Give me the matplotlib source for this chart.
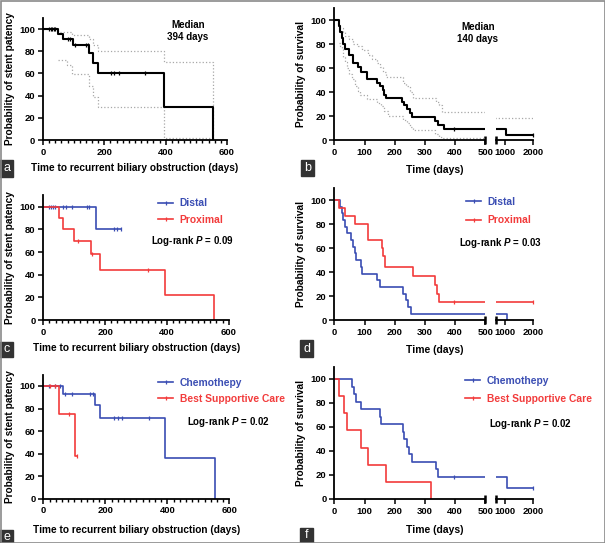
import numpy as np
import matplotlib.pyplot as plt
from matplotlib.lines import Line2D
from matplotlib.patches import Rectangle
from matplotlib.ticker import MultipleLocator

plt.rcParams['font.family'] = ['Liberation Sans', 'DejaVu Sans']
plt.rcParams['font.weight'] = 'bold'
plt.rcParams['mathtext.fontset'] = 'custom'
plt.rcParams['mathtext.it'] = 'Liberation Sans:italic:bold'
plt.rcParams['mathtext.rm'] = 'Liberation Sans:bold'

# ---- data ----
# a: stent patency, all patients
a_t = [0, 50, 64, 99, 151, 162, 180, 394, 553]
a_s = [100, 96, 91, 85.5, 78, 69, 60, 30, 0]
a_cens = [20, 25, 30, 35, 40, 80, 88, 104, 140, 148, 222, 233, 247, 333]
a_up_t = [0, 50, 93, 150, 162, 180, 394, 553]
a_up_s = [100, 97, 95, 91, 86, 80, 70, 0]
a_lo_t = [50, 77, 96, 151, 164, 180, 394]
a_lo_s = [72, 67.5, 59.5, 48.5, 38.5, 30, 1.5]

# b: survival, all patients
b_t = [0, 15, 20, 25, 30, 35, 50, 62, 80, 90, 108, 140, 150, 160, 165, 172,
       225, 232, 240, 250, 258, 335, 345, 362, 1020]
b_s = [100, 95, 90, 85, 80, 76, 71, 64, 61, 57, 51, 48, 45, 42, 38, 35.5,
       32, 29, 26, 22.5, 19.5, 16, 13, 9.7, 4.8]
b_cens = [396, 2000]
b_up_t = [0, 12, 20, 28, 35, 50, 63, 80, 91, 110, 124, 140, 151, 162, 171,
          228, 237, 250, 261, 338, 346, 358, 600]
b_up_s = [100, 96, 93, 90, 87, 84, 80, 78, 75, 71, 68, 64, 61, 57, 52.4,
          48, 45, 40, 35.5, 32, 29, 23.5, 18.5]
b_lo_t = [16, 20, 24, 30, 35, 41, 50, 57, 68, 77, 85, 107, 140, 156, 165, 178,
          226, 240, 250, 262, 333, 347, 360]
b_lo_s = [81, 78, 75.5, 69, 65, 60, 55, 51, 45, 41, 38, 34, 31, 28.5, 24, 20.5,
          17, 14.5, 11, 8.5, 5, 3, 2]

# c: stent patency by site
c_dist_t = [0, 169]
c_dist_s = [100, 80]
c_dist_cens = [19, 25, 30, 38, 65, 75, 92, 140, 149, 229, 240, 252]
c_prox_t = [0, 50, 65, 99, 155, 182, 394, 553]
c_prox_s = [100, 90, 80, 70, 58.5, 44, 22, 0]
c_prox_cens = [111, 158, 338]

# d: survival by site
d_dist_t = [0, 19, 24, 30, 35, 41, 54, 63, 68, 72, 87, 93, 142, 151, 226,
            237, 245, 253, 1060]
d_dist_s = [100, 94.4, 88.9, 83.3, 77.8, 72.2, 66.7, 61.1, 55.6, 50, 44.4,
            38.9, 33.3, 27.8, 22.2, 16.7, 11.1, 5.6, 0]
d_prox_t = [0, 17, 35, 68, 110, 157, 162, 168, 262, 333, 339, 348, 363]
d_prox_s = [100, 93.3, 86.7, 80, 66.7, 60, 53.3, 44.4, 37, 29.6, 22.2, 14.8, 14.8]
d_prox_cens = [395, 2000]

# e: stent patency by treatment
e_chemo_t = [0, 62, 168, 182, 394, 553]
e_chemo_s = [100, 93, 83, 72, 36, 0]
e_chemo_cens = [17, 38, 54, 70, 92, 151, 160, 229, 241, 254, 340]
e_bsc_t = [0, 51, 102]
e_bsc_s = [100, 75, 37.5]
e_bsc_cens = [20, 38, 84, 110]

# f: survival by treatment
f_chemo_t = [0, 57, 65, 71, 90, 150, 156, 226, 231, 240, 248, 256, 337, 342, 1050]
f_chemo_s = [100, 93.75, 87.5, 81.25, 75, 68.75, 62.5, 56.25, 50, 43.75,
             37.5, 31.25, 25, 18.75, 9.4]
f_chemo_cens = [395, 2000]
f_bsc_t = [0, 17, 33, 41, 88, 110, 171, 320]
f_bsc_s = [100, 85.7, 71.4, 57.1, 42.9, 28.6, 14.3, 0]

BLUE = '#3a4db3'
RED = '#f23b3b'
CI = '#a8a8a8'

W, H = 605, 543
fig = plt.figure(figsize=(W / 100, H / 100), dpi=100)


def box(x0, x1, ytop, ybot):
    return fig.add_axes([x0 / W, 1 - ybot / H, (x1 - x0) / W, (ybot - ytop) / H])


def style(ax, left=True):
    for sp in ['top', 'right']:
        ax.spines[sp].set_visible(False)
    for sp in ['left', 'bottom']:
        ax.spines[sp].set_linewidth(1.3)
    ax.tick_params(labelsize=6.8, width=1.1, length=3.5, pad=2)
    ax.tick_params(which='minor', width=1.0, length=2.2)
    ax.set_ylim(0, 110)
    ax.set_yticks(range(0, 101, 20))
    ax.patch.set_alpha(0)
    if not left:
        ax.spines['left'].set_visible(False)
        ax.tick_params(axis='y', left=False, labelleft=False)


def km(ax, t, s, end, color, lw=1.2, ls='-', cens=()):
    tt = list(t) + [end]
    ss = list(s)[:len(t)] + [s[len(t) - 1]]
    ax.step(tt, ss, where='post', color=color, lw=lw, ls=ls)
    lo, hi = ax.get_xlim()
    cens = [c for c in cens if lo <= c <= hi]
    if cens:
        idx = np.searchsorted(t, cens, side='right') - 1
        ax.plot(cens, np.array(s)[idx], ls='none', marker='|', ms=3.2, mew=0.9,
                color=color, clip_on=False)


def linear_panel(ax):
    ax.set_xlim(0, 600)
    ax.set_xticks([0, 200, 400, 600])
    ax.xaxis.set_minor_locator(MultipleLocator(20))
    style(ax)


def broken_panel(ax1, ax2):
    ax1.set_xlim(0, 500)
    ax1.set_xticks(range(0, 501, 100))
    ax2.set_xlim(657, 2000)
    ax2.set_xticks([1000, 2000])
    style(ax1)
    style(ax2, left=False)
    ax1.plot([500], [0], marker='|', ms=6, mew=1.8, color='k', clip_on=False)
    ax2.plot([657], [0], marker='|', ms=6, mew=1.8, color='k', clip_on=False)


def legend(ax, labels, colors, x, y, spacing):
    hs = [Line2D([], [], color=c, lw=1.2, marker='|', ms=3.2, mew=0.9) for c in colors]
    ax.legend(hs, labels, loc='upper left', bbox_to_anchor=(x / W, 1 - y / H),
              bbox_transform=fig.transFigure, frameon=False, fontsize=7.4,
              handlelength=1.5, handletextpad=0.6, labelspacing=spacing,
              borderpad=0, borderaxespad=0, numpoints=1, labelcolor='linecolor')


def ftext(x, y, s, **kw):
    fig.text(x / W, 1 - y / H, s, ha='center', va='center', **kw)


# ---- a ----
ax = box(43, 227, 18, 140)
linear_panel(ax)
km(ax, a_up_t, a_up_s, 553, CI, lw=0.9, ls=':')
km(ax, a_lo_t, a_lo_s, 553, CI, lw=0.9, ls=':')
km(ax, a_t, a_s, 553, 'black', lw=1.5, cens=a_cens)
ftext(188, 31, 'Median\n394 days', fontsize=7, linespacing=1.25)

# ---- b ----
b1 = box(334.3, 485.3, 8, 140.3)
b2 = box(495.7, 533.3, 8, 140.3)
broken_panel(b1, b2)
for axx in (b1, b2):
    km(axx, b_up_t, b_up_s, 2000, CI, lw=0.9, ls=':')
    km(axx, b_lo_t, b_lo_s, 500, CI, lw=0.9, ls=':')
    km(axx, b_t, b_s, 2000, 'black', lw=1.5, cens=b_cens)
ftext(477.7, 33, 'Median\n140 days', fontsize=7, linespacing=1.25)

# ---- c ----
ax = box(43.3, 228.7, 195.4, 320)
linear_panel(ax)
km(ax, c_dist_t, c_dist_s, 252, BLUE, cens=c_dist_cens)
km(ax, c_prox_t, c_prox_s, 553, RED, cens=c_prox_cens)
legend(ax, ['Distal', 'Proximal'], [BLUE, RED], 158, 198.5, 0.6)
ftext(192.5, 241, 'Log-rank $P$ = 0.09', fontsize=7)

# ---- d ----
d1 = box(334.3, 485.3, 188, 320.3)
d2 = box(495.7, 533.3, 188, 320.3)
broken_panel(d1, d2)
for axx in (d1, d2):
    km(axx, d_dist_t, d_dist_s, 1060, BLUE)
    km(axx, d_prox_t, d_prox_s, 2000, RED, cens=d_prox_cens)
legend(d1, ['Distal', 'Proximal'], [BLUE, RED], 466, 197, 0.8)
ftext(500, 243, 'Log-rank $P$ = 0.03', fontsize=7)

# ---- e ----
ax = box(43.3, 229.3, 374.7, 498.7)
linear_panel(ax)
km(ax, e_chemo_t, e_chemo_s, 553, BLUE, cens=e_chemo_cens)
km(ax, e_bsc_t, e_bsc_s, 110, RED, cens=e_bsc_cens)
legend(ax, ['Chemothepy', 'Best Supportive Care'], [BLUE, RED], 158, 377.5, 0.6)
ftext(228.5, 422, 'Log-rank $P$ = 0.02', fontsize=7)

# ---- f ----
f1 = box(334.3, 485.3, 367, 499)
f2 = box(495.7, 533.3, 367, 499)
broken_panel(f1, f2)
for axx in (f1, f2):
    km(axx, f_chemo_t, f_chemo_s, 2000, BLUE, cens=f_chemo_cens)
    km(axx, f_bsc_t, f_bsc_s, 320, RED)
legend(f1, ['Chemothepy', 'Best Supportive Care'], [BLUE, RED], 465, 375.5, 0.8)
ftext(530, 424, 'Log-rank $P$ = 0.02', fontsize=7)

# ---- axis labels ----
xl = 'Time to recurrent biliary obstruction (days)'
ftext(134.6, 168, xl, fontsize=7.3)
ftext(137, 348, xl, fontsize=7.3)
ftext(137, 529.7, xl, fontsize=7.3)
for y in (170, 350, 529.7):
    ftext(435, y, 'Time (days)', fontsize=7.5)
yl1 = 'Probability of stent patency'
yl2 = 'Probability of survival'
ftext(10.5, 79, yl1, fontsize=7.3, rotation=90)
ftext(10.5, 258, yl1, fontsize=7.3, rotation=90)
ftext(10.5, 437, yl1, fontsize=7.3, rotation=90)
ftext(301, 74, yl2, fontsize=7.3, rotation=90)
ftext(301, 254, yl2, fontsize=7.3, rotation=90)
ftext(301, 433, yl2, fontsize=7.3, rotation=90)

# ---- panel letters ----
for lab, x, y, h in [('a', 0, 160, 17), ('b', 301, 160, 16), ('c', 0, 342, 15),
                     ('d', 300, 340, 17), ('e', 0, 530, 13), ('f', 300, 528, 15)]:
    fig.patches.append(Rectangle((x / W, 1 - (y + h) / H), 13 / W, h / H,
                                 transform=fig.transFigure, color='#333333'))
    ftext(x + 6.5, y + h / 2, lab, fontsize=9, color='white', weight='normal')

fig.patches.append(Rectangle((0.5 / W, 0.5 / H), 1 - 1 / W, 1 - 1 / H, transform=fig.transFigure,
                             fill=False, edgecolor='#8a8a8a', lw=1.2))

fig.savefig('out.png', dpi=100)
